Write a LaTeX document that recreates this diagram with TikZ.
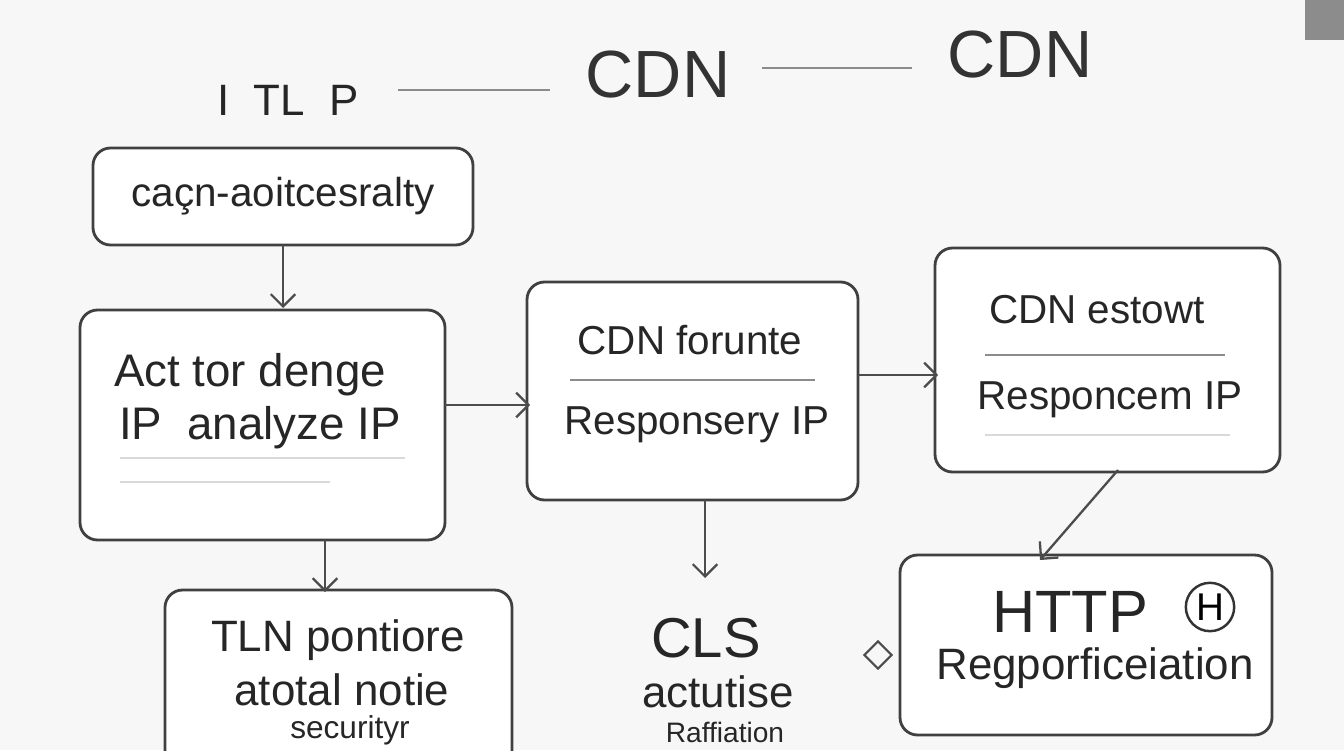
\documentclass[tikz,border=0pt]{standalone}
\usepackage{fontspec}
\setmainfont{Liberation Sans}
\usetikzlibrary{positioning, arrows.meta, calc, shapes.geometric}

\tikzset{
    card/.style={draw=black!75, line width=1.6pt, rounded corners=10pt, fill=white},
    flow/.style={-{Straight Barb[length=7pt,width=14pt]}, draw=black!70, line width=1.3pt},
    rule/.style={draw=black!45, line width=0.8pt},
    faint/.style={draw=black!15, line width=0.8pt},
    txt/.style={font=\fontsize{23}{26}\selectfont, text=black!85}
}

\begin{document}
\begin{tikzpicture}[x=0.02cm, y=-0.02cm]
    \useasboundingbox (0,0) rectangle (1344,750);
    \fill[black!3] (0,0) rectangle (1344,750);
    \fill[black!45] (1305,0) rectangle (1344,40);

    % heading row
    \node[txt, font=\fontsize{25}{28}\selectfont] (ttl) at (288,100) {I\ \ TL\ \ P};
    \node[font=\fontsize{38}{42}\selectfont, text=black!80] (cdnA) at (658,75) {CDN};
    \node[font=\fontsize{38}{42}\selectfont, text=black!80] (cdnB) at (1020,55) {CDN};
    \draw[rule, line width=1.2pt] (398,90) -- (550,90);
    \draw[rule, line width=1.2pt] (762,68) -- (912,68);

    % boxes
    \draw[card] (93,148) rectangle (473,245);
    \node[txt] (cache) at (283,196) {caçn-aoitcesralty};

    \draw[card] (80,310) rectangle (445,540);
    \node[txt, font=\fontsize{26}{30}\selectfont] (act) at (250,375) {Act tor denge};
    \node[txt, font=\fontsize{26}{30}\selectfont] (ipa) at (260,428) {IP\ \ analyze IP};
    \draw[faint] (120,458) -- (405,458);
    \draw[faint] (120,482) -- (330,482);

    \draw[card] (527,282) rectangle (858,500);
    \node[txt] (fwd) at (690,340) {CDN forunte};
    \draw[rule] (570,380) -- (815,380);
    \node[txt] (resA) at (697,425) {Responsery IP};

    \draw[card] (935,248) rectangle (1280,472);
    \node[txt] (est) at (1097,310) {CDN estowt};
    \draw[rule] (985,355) -- (1225,355);
    \node[txt] (resB) at (1110,400) {Responcem IP};
    \draw[faint] (985,435) -- (1230,435);

    \draw[card] (165,590) rectangle (512,780);
    \node[txt, font=\fontsize{25}{28}\selectfont] (tln) at (338,640) {TLN pontiore};
    \node[txt, font=\fontsize{25}{28}\selectfont] (tot) at (342,690) {atotal notie};
    \node[txt, font=\fontsize{18}{20}\selectfont] (sec) at (350,730) {securityr};

    \node[txt, font=\fontsize{32}{36}\selectfont] (cls) at (706,638) {CLS};
    \node[txt, font=\fontsize{25}{28}\selectfont] (actu) at (718,692) {actutise};
    \node[txt, font=\fontsize{16}{18}\selectfont] (raf) at (725,732) {Raffiation};

    \draw[card] (900,555) rectangle (1272,735);
    \node[txt, font=\fontsize{34}{38}\selectfont] (http) at (1070,612) {HTTP};
    \node[draw=black!80, circle, line width=1.4pt, inner sep=2pt, font=\fontsize{22}{24}\selectfont] (hico) at (1210,607) {H};
    \node[txt, font=\fontsize{25}{28}\selectfont] (reg) at (1095,668) {Regporficeiation};
    \node[draw=black!70, diamond, line width=1.2pt, inner sep=4pt] (dia) at (878,655) {};

    % connectors
    \coordinate (c1) at (283,245);
    \coordinate (c2) at (283,308);
    \draw[flow] (c1) -- (c2);
    \coordinate (a1) at (445,405);
    \coordinate (a2) at (530,405);
    \draw[flow] (a1) -- (a2);
    \coordinate (b1) at (858,375);
    \coordinate (b2) at (938,375);
    \draw[flow] (b1) -- (b2);
    \coordinate (d1) at (1118,470);
    \coordinate (d2) at (1040,560);
    \draw[flow] (d1) -- (d2);
    \coordinate (e1) at (705,500);
    \coordinate (e2) at (705,578);
    \draw[flow] (e1) -- (e2);
    \coordinate (f1) at (325,540);
    \coordinate (f2) at (325,592);
    \draw[flow] (f1) -- (f2);
\end{tikzpicture}
\end{document}
